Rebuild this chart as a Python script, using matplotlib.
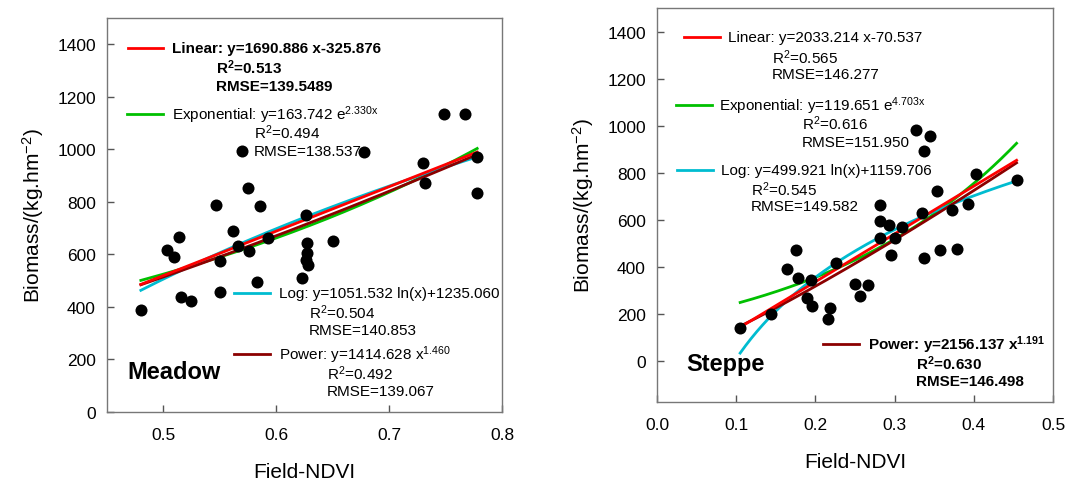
import numpy as np
import matplotlib
matplotlib.use("Agg")
import matplotlib.pyplot as plt

plt.rcParams['font.family'] = ['Liberation Sans', 'DejaVu Sans']
plt.rcParams['mathtext.fontset'] = 'custom'
plt.rcParams['mathtext.rm'] = 'Liberation Sans'
plt.rcParams['mathtext.it'] = 'Liberation Sans'
plt.rcParams['mathtext.bf'] = 'Liberation Sans:bold'

# ---------------- data ----------------
meadow_ndvi = [0.570, 0.575, 0.678, 0.749, 0.767, 0.730, 0.732, 0.778, 0.778,
               0.547, 0.586, 0.626, 0.562, 0.514, 0.593, 0.566, 0.576, 0.503,
               0.509, 0.627, 0.627, 0.626, 0.628, 0.650, 0.550, 0.623, 0.583,
               0.516, 0.524, 0.550, 0.480]
meadow_biomass = [995, 852, 991, 1134, 1134, 947, 871, 970, 833,
                  789, 785, 750, 688, 667, 661, 631, 614, 617,
                  591, 642, 605, 579, 560, 651, 574, 509, 494,
                  439, 424, 456, 388]

steppe_ndvi = [0.327, 0.345, 0.337, 0.403, 0.454, 0.354, 0.282, 0.393, 0.373,
               0.334, 0.282, 0.293, 0.309, 0.282, 0.301, 0.176, 0.357, 0.379,
               0.337, 0.295, 0.164, 0.226, 0.178, 0.195, 0.250, 0.266, 0.256,
               0.190, 0.196, 0.219, 0.216, 0.144, 0.105]
steppe_biomass = [983, 954, 891, 796, 770, 720, 664, 668, 642,
                  630, 594, 576, 569, 523, 522, 472, 472, 477,
                  437, 452, 391, 417, 352, 342, 328, 323, 274,
                  267, 231, 224, 179, 200, 140]

# fitted model coefficients
meadow_linear = (1690.886, -325.876)
meadow_exp = (163.742, 2.330)
meadow_log = (1051.532, 1235.060)
meadow_power = (1414.628, 1.460)

steppe_linear = (2033.214, -70.537)
steppe_exp_drawn = (167.0, 3.77)   # curve as drawn in the figure
steppe_log = (499.921, 1159.706)
steppe_power = (2156.137, 1.191)

meadow_yticks = [0, 200, 400, 600, 800, 1000, 1200, 1400]
meadow_xticks = [0.5, 0.6, 0.7, 0.8]
steppe_yticks = [0, 200, 400, 600, 800, 1000, 1200, 1400]
steppe_xticks = [0.0, 0.1, 0.2, 0.3, 0.4, 0.5]

C_LIN = '#ff0000'
C_EXP = '#00c000'
C_LOG = '#00bcd0'
C_POW = '#8b0000'

fig = plt.figure(figsize=(10.77, 4.81), dpi=100)
axL = fig.add_axes([107/1077, 1-413/481, 395/1077, 394/481])
axR = fig.add_axes([657/1077, 1-403/481, 396/1077, 394/481])


def draw_curves(ax, x, lin, ex, lg, pw):
    xs = np.linspace(min(x), max(x), 200)
    ax.plot(xs, ex[0]*np.exp(ex[1]*xs), color=C_EXP, lw=2, zorder=3)
    ax.plot(xs, lg[0]*np.log(xs)+lg[1], color=C_LOG, lw=2, zorder=3)
    ax.plot(xs, pw[0]*xs**pw[1], color=C_POW, lw=2, zorder=3)
    ax.plot(xs, lin[0]*xs+lin[1], color=C_LIN, lw=2, zorder=3)


def style(ax, xlim, ylim, xticks, yticks, xfmt):
    ax.set_xlim(*xlim)
    ax.set_ylim(*ylim)
    ax.set_xticks(xticks)
    ax.set_yticks(yticks)
    ax.set_xticklabels([xfmt.format(t) for t in xticks])
    ax.tick_params(direction='in', length=5, width=1, color='#555555',
                   labelsize=12.5, pad=8)
    ax.tick_params(axis='x', pad=11)
    for s in ax.spines.values():
        s.set_color('#777777')
        s.set_linewidth(1)
    ax.set_xlabel('Field-NDVI', fontsize=15, labelpad=14)
    ax.set_ylabel('Biomass/(kg.hm$^{-2}$)', fontsize=15, labelpad=8)


def legend_entry(ax, fig, x0, x1, xt, y, color, text, bold=False):
    # coordinates in figure pixels (top-left origin)
    W, H = 1077, 481
    fig.add_artist(plt.Line2D([x0/W, x1/W], [1-y/H, 1-y/H], color=color, lw=2))
    fig.text(xt/W, 1-y/H, text, fontsize=11, va='center', ha='left',
             fontweight='bold' if bold else 'normal')


def ftxt(fig, x, y, text, bold=False, size=11):
    W, H = 1077, 481
    fig.text(x/W, 1-y/H, text, fontsize=size, va='center', ha='left',
             fontweight='bold' if bold else 'normal')


# ---------------- Meadow ----------------
axL.scatter(meadow_ndvi, meadow_biomass, s=75, color='black', zorder=4, linewidths=0)
draw_curves(axL, meadow_ndvi, meadow_linear, meadow_exp, meadow_log, meadow_power)
style(axL, (0.45, 0.8), (0, 1500), meadow_xticks, meadow_yticks, '{:.1f}')

legend_entry(axL, fig, 128, 163, 172, 49, C_LIN,
             'Linear: y=%.3f x%.3f' % meadow_linear, bold=True)
ftxt(fig, 216, 68, r'R$^\mathbf{2}$=0.513', bold=True)
ftxt(fig, 216, 87, 'RMSE=139.5489', bold=True)
legend_entry(axL, fig, 127, 163, 172, 115, C_EXP,
             r'Exponential: y=%.3f e$^{\mathrm{%.3fx}}$' % meadow_exp)
ftxt(fig, 254, 133, r'R$^2$=0.494')
ftxt(fig, 254, 152, 'RMSE=138.537')
legend_entry(axL, fig, 234, 270, 279, 294, C_LOG,
             'Log: y=%.3f ln(x)+%.3f' % meadow_log)
ftxt(fig, 309, 313, r'R$^2$=0.504')
ftxt(fig, 309, 331, 'RMSE=140.853')
legend_entry(axL, fig, 234, 270, 279, 355, C_POW,
             r'Power: y=%.3f x$^{\mathrm{%.3f}}$' % meadow_power)
ftxt(fig, 327, 374, r'R$^2$=0.492')
ftxt(fig, 327, 392, 'RMSE=139.067')
ftxt(fig, 127, 373, 'Meadow', bold=True, size=17)

# ---------------- Steppe ----------------
axR.scatter(steppe_ndvi, steppe_biomass, s=75, color='black', zorder=4, linewidths=0)
draw_curves(axR, steppe_ndvi, steppe_linear, steppe_exp_drawn, steppe_log, steppe_power)
style(axR, (0.0, 0.5), (-175, 1500), steppe_xticks, steppe_yticks, '{:.1f}')

legend_entry(axR, fig, 684, 720, 728, 38, C_LIN,
             'Linear: y=%.3f x%.3f' % steppe_linear)
ftxt(fig, 772, 58, r'R$^2$=0.565')
ftxt(fig, 772, 75, 'RMSE=146.277')
legend_entry(axR, fig, 676, 712, 719, 106, C_EXP,
             r'Exponential: y=119.651 e$^{\mathrm{4.703x}}$')
ftxt(fig, 802, 124, r'R$^2$=0.616')
ftxt(fig, 802, 143, 'RMSE=151.950')
legend_entry(axR, fig, 677, 713, 721, 171, C_LOG,
             'Log: y=%.3f ln(x)+%.3f' % steppe_log)
ftxt(fig, 751, 190, r'R$^2$=0.545')
ftxt(fig, 751, 207, 'RMSE=149.582')
legend_entry(axR, fig, 823, 859, 868, 345, C_POW,
             r'Power: y=%.3f x$^\mathbf{%.3f}$' % steppe_power, bold=True)
ftxt(fig, 916, 364, r'R$^\mathbf{2}$=0.630', bold=True)
ftxt(fig, 916, 382, 'RMSE=146.498', bold=True)
ftxt(fig, 686, 365, 'Steppe', bold=True, size=17)

fig.savefig('out.png', dpi=100)
